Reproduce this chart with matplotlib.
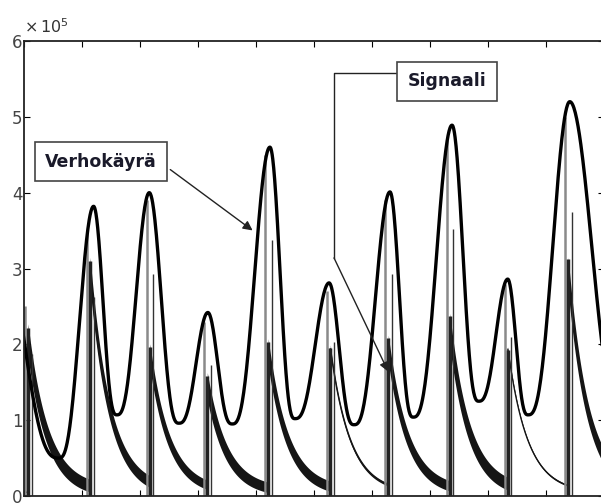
import numpy as np
import matplotlib
matplotlib.use("Agg")
import matplotlib.pyplot as plt

# envelope extrema (x in tick units, y in units of 10^5)
env_x = [-0.45, 0.60, 1.20, 1.60, 2.16, 2.67, 3.17, 3.59, 4.24, 4.67,
         5.26, 5.69, 6.31, 6.71, 7.38, 7.84, 8.34, 8.69, 9.41, 10.35]
env_y = [3.60, 0.50, 3.82, 1.07, 4.00, 0.96, 2.42, 0.95, 4.60, 1.02,
         2.81, 0.94, 4.01, 1.04, 4.89, 1.25, 2.86, 1.07, 5.20, 1.00]

# signal pulses
pulse_x = [0.07, 1.14, 2.17, 3.16, 4.21, 5.28, 6.28, 7.34, 8.34, 9.38]
pulse_spike = [2.50, 3.50, 3.90, 2.30, 4.50, 2.70, 3.90, 4.70, 2.80, 5.00]
pulse_amp = [2.00, 2.90, 1.80, 1.40, 1.85, 1.90, 1.90, 2.15, 1.90, 2.90]
pulse_noise = [0.22, 0.20, 0.16, 0.18, 0.18, 0.05, 0.18, 0.22, 0.03, 0.22]
decay_tau = 0.34
baseline = 0.05

fig = plt.figure(figsize=(6.01, 5.04), dpi=100, facecolor="white")
ax = fig.add_axes([24 / 601, 8 / 504, 580 / 601, 455 / 504])

# envelope: sharpened half-cosine between consecutive extrema
ex = []
ey = []
for i in range(len(env_x) - 1):
    t = np.linspace(0, 1, 80)
    hi_first = env_y[i] > env_y[i + 1]
    u = t if hi_first else 1 - t
    s = ((1 + np.cos(np.pi * u)) / 2) ** 1.4
    lo, hi = min(env_y[i], env_y[i + 1]), max(env_y[i], env_y[i + 1])
    ex.append(env_x[i] + (env_x[i + 1] - env_x[i]) * t)
    ey.append(lo + (hi - lo) * s)
ex = np.concatenate(ex)
ey = np.concatenate(ey)

# signal: decaying bursts after each pulse
xs = np.linspace(0, 10, 4000)
sig = np.full_like(xs, baseline)
wid = np.zeros_like(xs)
for i, p in enumerate(pulse_x):
    m = xs >= p
    d = np.exp(-(xs[m] - p) / decay_tau)
    sig[m] = baseline + pulse_amp[i] * d
    wid[m] = pulse_noise[i] * (0.35 + 0.65 * d)

ax.fill_between(xs, np.clip(sig - wid, 0, None), sig + wid, color="#151515", lw=0)
ax.plot(xs, sig, color="#151515", lw=0.9)
for i, p in enumerate(pulse_x):
    ax.vlines(p - 0.05, 0, pulse_spike[i], color="#8a8a8a", lw=1.8)
    ax.vlines(p + 0.06, 0, pulse_spike[i] * 0.75, color="#333333", lw=1.0)
    ax.vlines(p, 0, pulse_amp[i] + pulse_noise[i], color="#222222", lw=2.5)

ax.plot(ex, ey, color="black", lw=2.4)

# annotations
box_font = dict(fontsize=12.5, fontweight="bold", family="DejaVu Sans",
                color="#1a1a2a")
ax.annotate("Verhokäyrä", xy=(3.98, 3.48), xytext=(1.33, 4.41),
            ha="center", va="center", **box_font,
            bbox=dict(boxstyle="square,pad=0.6", fc="white", ec="#444444", lw=1.2),
            arrowprops=dict(arrowstyle="-|>", color="#222222", lw=1.0,
                            mutation_scale=14, relpos=(1.0, 0.6)))
ax.text(7.29, 5.47, "Signaali", ha="center", va="center", **box_font,
        bbox=dict(boxstyle="square,pad=0.6", fc="white", ec="#444444", lw=1.2))
ax.plot([6.78, 5.345, 5.345], [5.58, 5.58, 3.14], color="#222222", lw=1.0)
ax.annotate("", xy=(6.28, 1.64), xytext=(5.345, 3.14),
            arrowprops=dict(arrowstyle="-|>", color="#222222", lw=1.0,
                            mutation_scale=14, shrinkA=0, shrinkB=0))

ax.set_xlim(0, 10)
ax.set_ylim(0, 6)
ax.set_xticks(np.arange(0, 11, 1))
ax.set_yticks(np.arange(0, 7, 1))
ax.set_xticklabels([])
ax.tick_params(direction="in", length=4, top=True, right=True,
               labelsize=12, labelcolor="#444444", pad=1)
for s in ax.spines.values():
    s.set_linewidth(1.3)
    s.set_color("#222222")
ax.text(0.0, 1.01, r"$\times\,10^5$", transform=ax.transAxes, ha="left",
        va="bottom", fontsize=11.5, color="#333333")

fig.savefig("out.png", dpi=100, facecolor="white")
